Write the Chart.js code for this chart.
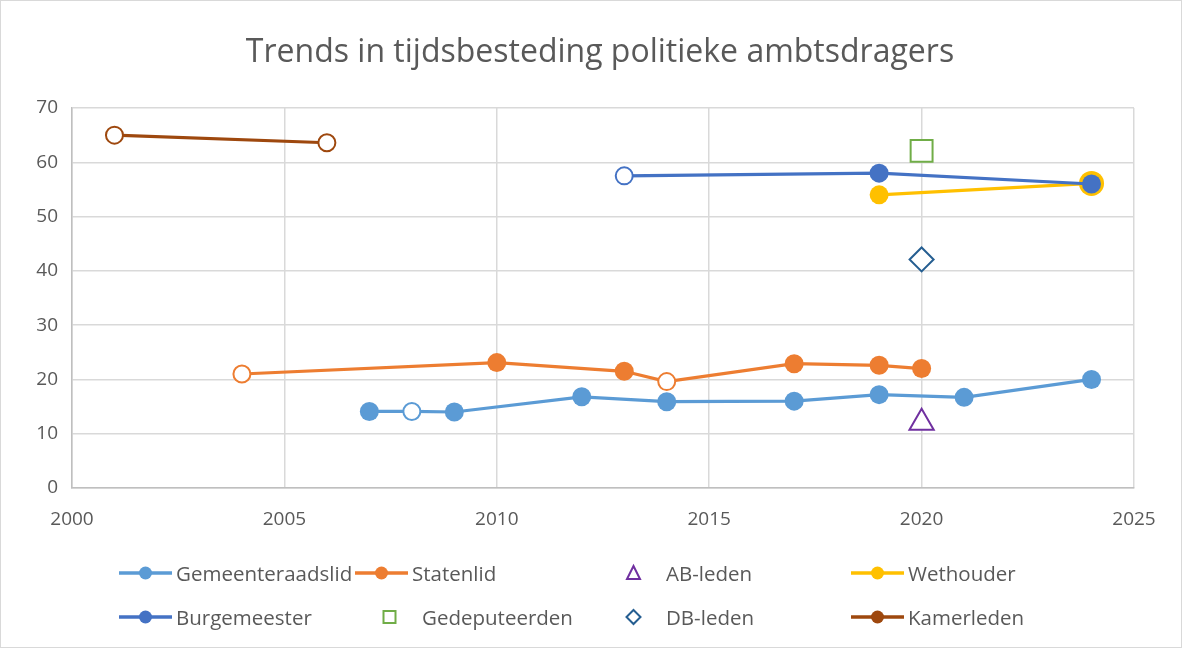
<!DOCTYPE html>
<html>
<head>
<meta charset="utf-8">
<script src="https://cdn.jsdelivr.net/npm/chart.js@4"></script>
<style>
  html, body { margin: 0; padding: 0; background: #fff; }
  #wrap { position: relative; width: 1182px; height: 648px; box-sizing: border-box; border: 1px solid #d9d9d9; }
  #chart { position: absolute; left: 0; top: 0; }
  #legend { position: absolute; left: 0; top: 550px; width: 1182px; height: 90px; font-family: "Open Sans", sans-serif; font-size: 20.5px; color: #595959; }
  .item { position: absolute; display: flex; align-items: center; height: 40px; white-space: nowrap; }
  .item svg { flex: none; }
</style>
</head>
<body>
<div id="wrap">
  <canvas id="chart" width="1180" height="646"></canvas>
  <div id="legend"></div>
</div>
<script>
// values (year, hours per week)
const gemeenteraadslidYears = [2007, 2008, 2009, 2012, 2014, 2017, 2019, 2021, 2024];
const gemeenteraadslidValues = [14.1, 14.1, 14.0, 16.8, 15.9, 16.0, 17.2, 16.7, 20.0];
const gemeenteraadslidOpen = [false, true, false, false, false, false, false, false, false];

const statenlidYears = [2004, 2010, 2013, 2014, 2017, 2019, 2020];
const statenlidValues = [21.0, 23.1, 21.5, 19.6, 22.9, 22.6, 22.0];
const statenlidOpen = [true, false, false, true, false, false, false];

const abLedenYears = [2020];
const abLedenValues = [12];

const wethouderYears = [2019, 2024];
const wethouderValues = [54.0, 56.1];

const burgemeesterYears = [2013, 2019, 2024];
const burgemeesterValues = [57.5, 58.0, 56.0];
const burgemeesterOpen = [true, false, false];

const gedeputeerdenYears = [2020];
const gedeputeerdenValues = [62.1];

const dbLedenYears = [2020];
const dbLedenValues = [42.1];

const kamerledenYears = [2001, 2006];
const kamerledenValues = [65.0, 63.6];

const xTicks = [2000, 2005, 2010, 2015, 2020, 2025];
const yTicks = [0, 10, 20, 30, 40, 50, 60, 70];

function pts(xs, ys) {
    return xs.map((x, i) => ({ x: x, y: ys[i] }));
}

function lineSeries(label, xs, ys, color, open, order, radius) {
    open = open || xs.map(() => false);
    return {
        label: label,
        data: pts(xs, ys),
        showLine: true,
        borderColor: color,
        backgroundColor: color,
        borderWidth: 3.2,
        pointStyle: 'circle',
        pointRadius: radius || xs.map((x, i) => open[i] ? 8.5 : 9.5),
        pointBorderWidth: xs.map((x, i) => open[i] ? 2 : 0),
        pointBorderColor: color,
        pointBackgroundColor: xs.map((x, i) => open[i] ? '#ffffff' : color),
        order: order,
        legendLine: true
    };
}

function markerSeries(label, xs, ys, color, style, radius, order) {
    return {
        label: label,
        data: pts(xs, ys),
        showLine: false,
        borderColor: color,
        backgroundColor: '#ffffff',
        pointStyle: style,
        pointRadius: radius,
        pointBorderWidth: 2,
        pointBorderColor: color,
        pointBackgroundColor: '#ffffff',
        order: order,
        legendLine: false
    };
}

const datasets = [
    lineSeries('Gemeenteraadslid', gemeenteraadslidYears, gemeenteraadslidValues, '#5B9BD5', gemeenteraadslidOpen, 5),
    lineSeries('Statenlid', statenlidYears, statenlidValues, '#ED7D31', statenlidOpen, 4),
    markerSeries('AB-leden', abLedenYears, abLedenValues, '#7030A0', 'triangle', 14, 3),
    lineSeries('Wethouder', wethouderYears, wethouderValues, '#FFC000', null, 2, [9.5, 12.5]),
    lineSeries('Burgemeester', burgemeesterYears, burgemeesterValues, '#4472C4', burgemeesterOpen, 1),
    markerSeries('Gedeputeerden', gedeputeerdenYears, gedeputeerdenValues, '#70AD47', 'rect', 15.5, 3),
    markerSeries('DB-leden', dbLedenYears, dbLedenValues, '#255E91', 'rectRot', 12, 3),
    lineSeries('Kamerleden', kamerledenYears, kamerledenValues, '#9E480E', [true, true], 1)
];

const textColor = '#595959';
const gridColor = '#d9d9d9';

const chart = new Chart(document.getElementById('chart'), {
    type: 'scatter',
    data: { datasets: datasets },
    options: {
        responsive: false,
        animation: false,
        layout: { padding: { left: 18, right: 0, top: 0, bottom: 114 } },
        plugins: {
            legend: { display: false },
            tooltip: { enabled: false },
            title: {
                display: true,
                text: 'Trends in tijdsbesteding politieke ambtsdragers',
                color: textColor,
                font: { family: '"Open Sans", sans-serif', size: 32, weight: 'normal' },
                padding: { top: 33, bottom: 35.6 }
            }
        },
        scales: {
            x: {
                type: 'linear',
                min: 2000,
                max: 2025,
                afterBuildTicks: (s) => { s.ticks = xTicks.map(v => ({ value: v })); },
                afterFit: (s) => { s.height = 45; },
                ticks: {
                    color: textColor,
                    padding: 20,
                    font: { family: '"Open Sans", sans-serif', size: 19 },
                    callback: (v) => String(v)
                },
                grid: { color: gridColor, lineWidth: 1.5, drawTicks: false },
                border: { color: '#bfbfbf', width: 1.5 }
            },
            y: {
                min: 0,
                max: 70,
                afterBuildTicks: (s) => { s.ticks = yTicks.map(v => ({ value: v })); },
                afterFit: (s) => { s.width = 53; },
                ticks: {
                    color: textColor,
                    padding: 14,
                    font: { family: '"Open Sans", sans-serif', size: 19 }
                },
                grid: { color: gridColor, lineWidth: 1.5, drawTicks: false },
                border: { color: '#bfbfbf', width: 1.5 }
            },
            // empty right-hand spacer so the title sits where it does in the original
            yRight: {
                position: 'right',
                afterFit: (s) => { s.width = 47; },
                ticks: { display: false },
                grid: { display: false, drawTicks: false },
                border: { display: false }
            }
        }
    }
});

// legend in four columns, built from the datasets
const legendCols = [118, 354, 606, 850];
const legendRows = [2, 46];
const legendEl = document.getElementById('legend');
datasets.forEach((ds, i) => {
    const col = i % 4;
    const row = Math.floor(i / 4);
    const item = document.createElement('div');
    item.className = 'item';
    item.style.left = (legendCols[col] + (col === 1 && !ds.legendLine ? 8 : 0)) + 'px';
    item.style.top = legendRows[row] + 'px';
    let svg = '<svg width="53" height="24" viewBox="0 0 53 24">';
    const c = ds.borderColor;
    if (ds.legendLine) {
        svg += `<line x1="0" y1="12" x2="53" y2="12" stroke="${c}" stroke-width="3.5"/>`;
        svg += `<circle cx="26.5" cy="12" r="6.5" fill="${c}"/>`;
    } else if (ds.pointStyle === 'triangle') {
        svg += `<polygon points="26.5,5 33,18 20,18" fill="#fff" stroke="${c}" stroke-width="2"/>`;
    } else if (ds.pointStyle === 'rect') {
        svg += `<rect x="20.5" y="6" width="12" height="12" fill="#fff" stroke="${c}" stroke-width="2"/>`;
    } else {
        svg += `<polygon points="26.5,5 33.5,12 26.5,19 19.5,12" fill="#fff" stroke="${c}" stroke-width="2"/>`;
    }
    svg += '</svg>';
    const gap = ds.legendLine ? 4 : 6;
    item.innerHTML = svg + `<span style="margin-left:${gap}px">${ds.label}</span>`;
    legendEl.appendChild(item);
});
</script>
</body>
</html>
